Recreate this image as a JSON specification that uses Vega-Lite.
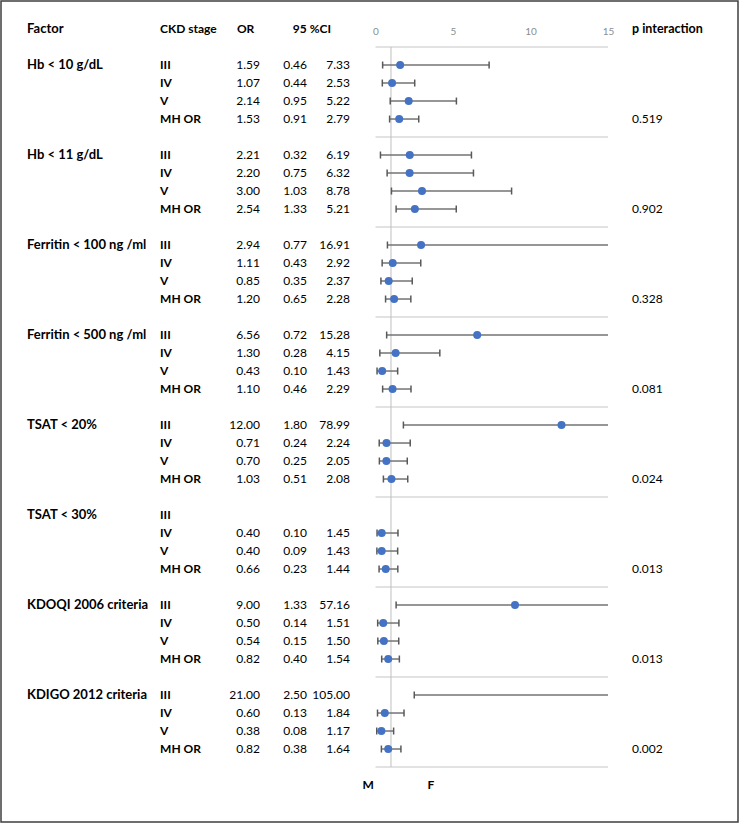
{
  "$schema": "https://vega.github.io/schema/vega-lite/v6.json",
  "width": 737,
  "height": 821,
  "autosize": {"type": "none"},
  "padding": {"left": 1, "top": 1, "right": 7, "bottom": 3},
  "background": "white",
  "config": {
    "view": {"stroke": "#3f3f3f", "strokeWidth": 1.5},
    "text": {"font": "Lato", "fontSize": 12, "color": "#000000"},
    "axisY": {"disable": true}
  },
  "datasets": {
    "rows": [
      {"id": "g1-III", "factor": "Hb < 10 g/dL", "stage": "III", "or": 1.59, "lo": 0.46, "hi": 7.33, "p": null},
      {"id": "g1-IV", "factor": "Hb < 10 g/dL", "stage": "IV", "or": 1.07, "lo": 0.44, "hi": 2.53, "p": null},
      {"id": "g1-V", "factor": "Hb < 10 g/dL", "stage": "V", "or": 2.14, "lo": 0.95, "hi": 5.22, "p": null},
      {"id": "g1-MH", "factor": "Hb < 10 g/dL", "stage": "MH OR", "or": 1.53, "lo": 0.91, "hi": 2.79, "p": "0.519"},
      {"id": "g2-III", "factor": "Hb < 11 g/dL", "stage": "III", "or": 2.21, "lo": 0.32, "hi": 6.19, "p": null},
      {"id": "g2-IV", "factor": "Hb < 11 g/dL", "stage": "IV", "or": 2.20, "lo": 0.75, "hi": 6.32, "p": null},
      {"id": "g2-V", "factor": "Hb < 11 g/dL", "stage": "V", "or": 3.00, "lo": 1.03, "hi": 8.78, "p": null},
      {"id": "g2-MH", "factor": "Hb < 11 g/dL", "stage": "MH OR", "or": 2.54, "lo": 1.33, "hi": 5.21, "p": "0.902"},
      {"id": "g3-III", "factor": "Ferritin < 100 ng /ml", "stage": "III", "or": 2.94, "lo": 0.77, "hi": 16.91, "p": null},
      {"id": "g3-IV", "factor": "Ferritin < 100 ng /ml", "stage": "IV", "or": 1.11, "lo": 0.43, "hi": 2.92, "p": null},
      {"id": "g3-V", "factor": "Ferritin < 100 ng /ml", "stage": "V", "or": 0.85, "lo": 0.35, "hi": 2.37, "p": null},
      {"id": "g3-MH", "factor": "Ferritin < 100 ng /ml", "stage": "MH OR", "or": 1.20, "lo": 0.65, "hi": 2.28, "p": "0.328"},
      {"id": "g4-III", "factor": "Ferritin < 500 ng /ml", "stage": "III", "or": 6.56, "lo": 0.72, "hi": 15.28, "p": null},
      {"id": "g4-IV", "factor": "Ferritin < 500 ng /ml", "stage": "IV", "or": 1.30, "lo": 0.28, "hi": 4.15, "p": null},
      {"id": "g4-V", "factor": "Ferritin < 500 ng /ml", "stage": "V", "or": 0.43, "lo": 0.10, "hi": 1.43, "p": null},
      {"id": "g4-MH", "factor": "Ferritin < 500 ng /ml", "stage": "MH OR", "or": 1.10, "lo": 0.46, "hi": 2.29, "p": "0.081"},
      {"id": "g5-III", "factor": "TSAT < 20%", "stage": "III", "or": 12.00, "lo": 1.80, "hi": 78.99, "p": null},
      {"id": "g5-IV", "factor": "TSAT < 20%", "stage": "IV", "or": 0.71, "lo": 0.24, "hi": 2.24, "p": null},
      {"id": "g5-V", "factor": "TSAT < 20%", "stage": "V", "or": 0.70, "lo": 0.25, "hi": 2.05, "p": null},
      {"id": "g5-MH", "factor": "TSAT < 20%", "stage": "MH OR", "or": 1.03, "lo": 0.51, "hi": 2.08, "p": "0.024"},
      {"id": "g6-III", "factor": "TSAT < 30%", "stage": "III", "or": null, "lo": null, "hi": null, "p": null},
      {"id": "g6-IV", "factor": "TSAT < 30%", "stage": "IV", "or": 0.40, "lo": 0.10, "hi": 1.45, "p": null},
      {"id": "g6-V", "factor": "TSAT < 30%", "stage": "V", "or": 0.40, "lo": 0.09, "hi": 1.43, "p": null},
      {"id": "g6-MH", "factor": "TSAT < 30%", "stage": "MH OR", "or": 0.66, "lo": 0.23, "hi": 1.44, "p": "0.013"},
      {"id": "g7-III", "factor": "KDOQI 2006 criteria", "stage": "III", "or": 9.00, "lo": 1.33, "hi": 57.16, "p": null},
      {"id": "g7-IV", "factor": "KDOQI 2006 criteria", "stage": "IV", "or": 0.50, "lo": 0.14, "hi": 1.51, "p": null},
      {"id": "g7-V", "factor": "KDOQI 2006 criteria", "stage": "V", "or": 0.54, "lo": 0.15, "hi": 1.50, "p": null},
      {"id": "g7-MH", "factor": "KDOQI 2006 criteria", "stage": "MH OR", "or": 0.82, "lo": 0.40, "hi": 1.54, "p": "0.013"},
      {"id": "g8-III", "factor": "KDIGO 2012 criteria", "stage": "III", "or": 21.00, "lo": 2.50, "hi": 105.00, "p": null},
      {"id": "g8-IV", "factor": "KDIGO 2012 criteria", "stage": "IV", "or": 0.60, "lo": 0.13, "hi": 1.84, "p": null},
      {"id": "g8-V", "factor": "KDIGO 2012 criteria", "stage": "V", "or": 0.38, "lo": 0.08, "hi": 1.17, "p": null},
      {"id": "g8-MH", "factor": "KDIGO 2012 criteria", "stage": "MH OR", "or": 0.82, "lo": 0.38, "hi": 1.64, "p": "0.002"}
    ],
    "seps": [
      {"s": "s0"}, {"s": "s1"}, {"s": "s2"}, {"s": "s3"}, {"s": "s4"},
      {"s": "s5"}, {"s": "s6"}, {"s": "s7"}, {"s": "s8"}
    ]
  },
  "data": {"name": "rows"},
  "layer": [
    {
      "data": {"name": "seps"},
      "mark": {"type": "rule", "color": "#d9d9d9", "strokeWidth": 1.5},
      "encoding": {
        "x": {
          "datum": 0, "type": "quantitative",
          "scale": {"domain": [-24.161, 23.387], "nice": false, "zero": false},
          "axis": {
            "orient": "top", "values": [0, 5, 10, 15], "domain": false, "ticks": false, "tickSize": 0,
            "grid": false, "labelPadding": 0, "offset": -35, "title": null,
            "labelColor": "#8c8c8c", "labelFontSize": 10, "labelFont": "Lato", "labelFlush": false, "labelOverlap": false
          }
        },
        "x2": {"datum": 15},
        "y": {
          "field": "s", "type": "ordinal",
          "scale": {
            "type": "point", "padding": 0.806, "align": 0.966,
            "domain": ["hdr", "s0",
              "g1-III", "g1-IV", "g1-V", "g1-MH", "s1",
              "g2-III", "g2-IV", "g2-V", "g2-MH", "s2",
              "g3-III", "g3-IV", "g3-V", "g3-MH", "s3",
              "g4-III", "g4-IV", "g4-V", "g4-MH", "s4",
              "g5-III", "g5-IV", "g5-V", "g5-MH", "s5",
              "g6-III", "g6-IV", "g6-V", "g6-MH", "s6",
              "g7-III", "g7-IV", "g7-V", "g7-MH", "s7",
              "g8-III", "g8-IV", "g8-V", "g8-MH", "s8", "MF", "b1", "b2"]
          }
        }
      }
    },
    {
      "data": {"values": [{}]},
      "mark": {"type": "rule", "color": "#bfbfbf", "strokeWidth": 1},
      "encoding": {
        "x": {"datum": 1, "type": "quantitative"},
        "y": {"datum": "s0", "type": "ordinal"},
        "y2": {"datum": "s8"}
      }
    },
    {
      "transform": [{"filter": "isValid(datum.lo) && datum.hi <= 15"}],
      "mark": {"type": "rule", "color": "#737373", "strokeWidth": 1.5},
      "encoding": {
        "x": {"field": "lo", "type": "quantitative"},
        "x2": {"field": "hi"},
        "y": {"field": "id", "type": "ordinal"}
      }
    },
    {
      "transform": [{"filter": "isValid(datum.hi) && datum.hi > 15"}],
      "mark": {"type": "rule", "color": "#737373", "strokeWidth": 1.5},
      "encoding": {
        "x": {"field": "lo", "type": "quantitative"},
        "x2": {"datum": 15},
        "y": {"field": "id", "type": "ordinal"}
      }
    },
    {
      "transform": [{"filter": "isValid(datum.lo)"}],
      "mark": {"type": "tick", "color": "#595959", "thickness": 1.5, "size": 7, "orient": "vertical", "opacity": 1},
      "encoding": {
        "x": {"field": "lo", "type": "quantitative"},
        "y": {"field": "id", "type": "ordinal"}
      }
    },
    {
      "transform": [{"filter": "isValid(datum.hi) && datum.hi <= 15"}],
      "mark": {"type": "tick", "color": "#595959", "thickness": 1.5, "size": 7, "orient": "vertical", "opacity": 1},
      "encoding": {
        "x": {"field": "hi", "type": "quantitative"},
        "y": {"field": "id", "type": "ordinal"}
      }
    },
    {
      "transform": [{"filter": "isValid(datum.or) && datum.or <= 15"}],
      "mark": {"type": "circle", "color": "#4472c4", "size": 64, "opacity": 1},
      "encoding": {
        "x": {"field": "or", "type": "quantitative"},
        "y": {"field": "id", "type": "ordinal"}
      }
    },
    {
      "transform": [{"filter": "datum.stage === 'III'"}],
      "mark": {"type": "text", "align": "left", "baseline": "middle", "fontWeight": "bold", "fontSize": 13},
      "encoding": {
        "x": {"datum": -22.48, "type": "quantitative"},
        "y": {"field": "id", "type": "ordinal"},
        "text": {"field": "factor"}
      }
    },
    {
      "mark": {"type": "text", "align": "left", "baseline": "middle", "fontWeight": "bold", "fontSize": 12}, 
      "encoding": {
        "x": {"datum": -13.90, "type": "quantitative"},
        "y": {"field": "id", "type": "ordinal"},
        "text": {"field": "stage"}
      }
    },
    {
      "transform": [{"filter": "isValid(datum.or)"}],
      "mark": {"type": "text", "align": "right", "baseline": "middle"},
      "encoding": {
        "x": {"datum": -7.45, "type": "quantitative"},
        "y": {"field": "id", "type": "ordinal"},
        "text": {"field": "or", "type": "quantitative", "format": ".2f"}
      }
    },
    {
      "transform": [{"filter": "isValid(datum.lo)"}],
      "mark": {"type": "text", "align": "right", "baseline": "middle"},
      "encoding": {
        "x": {"datum": -4.42, "type": "quantitative"},
        "y": {"field": "id", "type": "ordinal"},
        "text": {"field": "lo", "type": "quantitative", "format": ".2f"}
      }
    },
    {
      "transform": [{"filter": "isValid(datum.hi)"}],
      "mark": {"type": "text", "align": "right", "baseline": "middle"},
      "encoding": {
        "x": {"datum": -1.645, "type": "quantitative"},
        "y": {"field": "id", "type": "ordinal"},
        "text": {"field": "hi", "type": "quantitative", "format": ".2f"}
      }
    },
    {
      "transform": [{"filter": "isValid(datum.p)"}],
      "mark": {"type": "text", "align": "left", "baseline": "middle"},
      "encoding": {
        "x": {"datum": 16.55, "type": "quantitative"},
        "y": {"field": "id", "type": "ordinal"},
        "text": {"field": "p"}
      }
    },
    {
      "data": {"values": [{"label": "Factor"}]},
      "mark": {"type": "text", "align": "left", "baseline": "middle", "fontWeight": "bold", "fontSize": 13},
      "encoding": {
        "x": {"datum": -22.48, "type": "quantitative"},
        "y": {"datum": "hdr", "type": "ordinal"},
        "text": {"field": "label"}
      }
    },
    {
      "data": {"values": [{"label": "CKD stage"}]},
      "mark": {"type": "text", "align": "left", "baseline": "middle", "fontWeight": "bold", "fontSize": 12},
      "encoding": {
        "x": {"datum": -13.90, "type": "quantitative"},
        "y": {"datum": "hdr", "type": "ordinal"},
        "text": {"field": "label"}
      }
    },
    {
      "data": {"values": [{"label": "OR"}]},
      "mark": {"type": "text", "align": "left", "baseline": "middle", "fontWeight": "bold", "fontSize": 12},
      "encoding": {
        "x": {"datum": -8.94, "type": "quantitative"},
        "y": {"datum": "hdr", "type": "ordinal"},
        "text": {"field": "label"}
      }
    },
    {
      "data": {"values": [{"label": "95 %CI"}]},
      "mark": {"type": "text", "align": "center", "baseline": "middle", "fontWeight": "bold", "fontSize": 12},
      "encoding": {
        "x": {"datum": -4.10, "type": "quantitative"},
        "y": {"datum": "hdr", "type": "ordinal"},
        "text": {"field": "label"}
      }
    },
    {
      "data": {"values": [{"label": "p interaction"}]},
      "mark": {"type": "text", "align": "left", "baseline": "middle", "fontWeight": "bold", "fontSize": 12.5},
      "encoding": {
        "x": {"datum": 16.55, "type": "quantitative"},
        "y": {"datum": "hdr", "type": "ordinal"},
        "text": {"field": "label"}
      }
    },
    {
      "data": {"values": [{"label": "M"}]},
      "mark": {"type": "text", "align": "center", "baseline": "middle", "fontWeight": "bold", "fontSize": 12},
      "encoding": {
        "x": {"datum": -0.48, "type": "quantitative"},
        "y": {"datum": "MF", "type": "ordinal"},
        "text": {"field": "label"}
      }
    },
    {
      "data": {"values": [{"label": "F"}]},
      "mark": {"type": "text", "align": "center", "baseline": "middle", "fontWeight": "bold", "fontSize": 12},
      "encoding": {
        "x": {"datum": 3.58, "type": "quantitative"},
        "y": {"datum": "MF", "type": "ordinal"},
        "text": {"field": "label"}
      }
    }
  ]
}
